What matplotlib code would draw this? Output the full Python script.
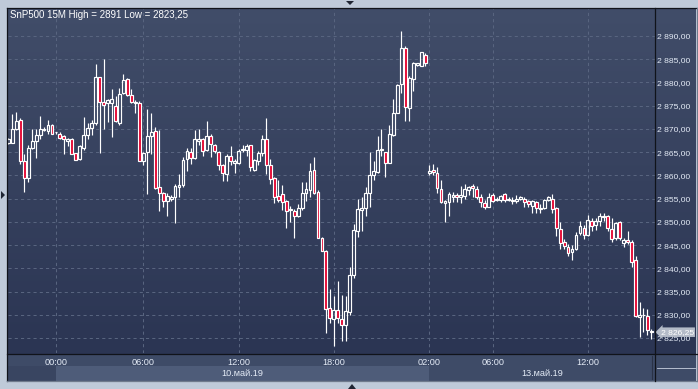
import numpy as np
import matplotlib
matplotlib.use('Agg')
import matplotlib.pyplot as plt
from matplotlib.patches import Rectangle, Polygon
from matplotlib.lines import Line2D
from matplotlib.colors import LinearSegmentedColormap

plt.rcParams['font.family'] = ['Liberation Sans', 'DejaVu Sans']

# ---------------- data (15M candles, SnP500) ----------------
opens = [2867, 2867, 2870, 2872, 2863, 2859.5, 2866, 2867.5, 2868.75, 2869.75,
         2869.5, 2870.75, 2869.25, 2869, 2868.5, 2867.5, 2867.75, 2864.75, 2863.5, 2866,
         2868.75, 2870.25, 2871.25, 2881.25, 2875.75, 2875.5, 2875.5, 2875, 2871.25, 2877.75,
         2880.75, 2877.25, 2875.5, 2875.5, 2863, 2865, 2868.5, 2869.5, 2857.5, 2856.25,
         2854.5,
         2855, 2855.25, 2857.5, 2858, 2863.5, 2865, 2863.75, 2867.5, 2867.75, 2865.5,
         2868.5, 2866.5, 2865, 2862.25, 2860.25, 2864.25, 2862.75, 2862.75, 2865.5, 2865.5,
         2866.5, 2861.25, 2863, 2864.75, 2867.75, 2862.25, 2859.5, 2855.5, 2856, 2854.5,
         2852.5, 2852.25, 2851.25, 2853, 2856.25, 2856.75, 2861.25, 2856.5, 2846.5, 2843.75,
         2831.5, 2829, 2831, 2829, 2827.75, 2830.5, 2838.5, 2848, 2852.5, 2853,
         2856.25, 2860, 2860.75, 2865.5, 2865, 2862.75, 2868.75, 2873.5, 2879.75, 2887.5,
         2874.5, 2880.75, 2883.75, 2883.5, 2886,
         2860.5, 2861.25, 2860.5, 2857, 2854, 2854.25, 2855.25, 2855.75, 2855.25, 2855.5,
         2856.75, 2857.75, 2857, 2855.25, 2854, 2853.25, 2855.75,
         2854.75, 2854.75, 2856, 2854.75, 2854.75, 2854.5, 2855, 2855, 2854.5, 2853.5,
         2854.25, 2853, 2853, 2854.75, 2855, 2853, 2848.5, 2845.75, 2844.5, 2843.5,
         2844.25, 2847.5, 2848.75, 2847.25, 2850.25, 2849.25, 2850.25, 2851, 2851.25, 2848.5,
         2846.5, 2850, 2845.5, 2846, 2845.75, 2841.75, 2829.5, 2830, 2829.75, 2826.5]
highs = [2868, 2873.25, 2873.75, 2872.25, 2864.5, 2866.5, 2870, 2870, 2872.75, 2870.5,
         2872, 2871, 2869.25, 2869.25, 2868.75, 2868, 2868, 2864.75, 2866.5, 2872.5,
         2871.25, 2872, 2884, 2881.25, 2885, 2876.5, 2878.5, 2877, 2878.75, 2881.75,
         2881, 2878.5, 2876.25, 2876, 2865, 2874.25, 2873.5, 2870.5, 2869.75, 2856.5,
         2856.25,
         2855.75, 2858.25, 2860.25, 2864, 2866, 2866, 2869.75, 2870, 2868, 2871.75,
         2869, 2866.75, 2865.25, 2862.5, 2864.5, 2866.25, 2863.5, 2865.75, 2866.5, 2866.75,
         2866.5, 2863.5, 2865.25, 2868.75, 2872.25, 2863.5, 2859.75, 2859, 2858, 2854.75,
         2853.5, 2852.75, 2853.75, 2858.5, 2858.5, 2862.75, 2864, 2856.75, 2846.75, 2844,
         2835.5, 2834, 2837.25, 2834.25, 2834, 2840.25, 2849.5, 2855, 2855.25, 2857.5,
         2865, 2863, 2868.5, 2870, 2865, 2870.75, 2876.5, 2879.75, 2891, 2887.75,
         2881.5, 2884.5, 2884.25, 2886.5, 2886.25,
         2862.25, 2862.5, 2861.75, 2859, 2854.75, 2856.5, 2856.5, 2856.25, 2857.75, 2858.25,
         2857.75, 2858.25, 2857.75, 2856, 2854.75, 2856.25, 2856.25,
         2855.25, 2855.75, 2856.25, 2855.25, 2855.25, 2855.75, 2855.5, 2855.25, 2854.75, 2854.75,
         2854.5, 2853.75, 2855, 2855.5, 2856, 2853.25, 2850, 2846.25, 2845.25, 2845,
         2847.75, 2850.25, 2849.25, 2851.5, 2850.75, 2850.75, 2852, 2852, 2851.5, 2850.75,
         2850, 2850.25, 2846.5, 2848, 2846, 2842.75, 2832.75, 2831.5, 2831.25, 2827]
lows = [2866.75, 2867, 2869.75, 2862.5, 2856.5, 2858.5, 2865.75, 2863.75, 2867.75, 2869.5,
        2869, 2869, 2869, 2867.75, 2864.5, 2866.25, 2864.5, 2863.25, 2863.25, 2865.5,
        2867.75, 2868.75, 2870.75, 2864.75, 2870, 2871.5, 2868.25, 2871.5, 2870.75, 2877.5,
        2877, 2875.5, 2873.5, 2863, 2862.25, 2856, 2864.5, 2857, 2852.25, 2853.25,
        2851.25,
        2854.5, 2849.75, 2855.25, 2857.5, 2861, 2862.5, 2863.5, 2866.5, 2864.25, 2865.25,
        2864, 2864.75, 2861.25, 2858.75, 2858.75, 2862.25, 2860.5, 2862.5, 2865, 2864.25,
        2861, 2861, 2862.25, 2864.25, 2860.25, 2858.25, 2854, 2854.25, 2852.5, 2848.75,
        2850, 2846.5, 2851, 2852.5, 2854.5, 2855.25, 2856, 2846.5, 2843.75, 2826,
        2828.25, 2823.25, 2828.25, 2824.25, 2824.25, 2830, 2838, 2846.75, 2848, 2851.25,
        2853.25, 2859, 2860.5, 2864.25, 2859.75, 2862.75, 2868.5, 2873.5, 2877.75, 2871.75,
        2871.75, 2878.25, 2883.5, 2883.5, 2883.5,
        2860, 2860, 2856.25, 2854, 2850, 2851.25, 2854.25, 2854.25, 2854, 2855,
        2855.75, 2855.25, 2855, 2853.25, 2852.75, 2853.25, 2854.25,
        2854.5, 2854.25, 2854.25, 2854.5, 2853.75, 2854, 2854.75, 2853.25, 2853.25, 2852,
        2852, 2852, 2852.75, 2854.5, 2852, 2847, 2844.25, 2844.25, 2842.75, 2841.75,
        2844, 2847.25, 2846.25, 2847, 2848, 2848.25, 2849, 2850.25, 2848, 2845.75,
        2846, 2846, 2844.5, 2845.25, 2840.25, 2829.5, 2825.25, 2826.25, 2825.75, 2824.75]
closes = [2867.75, 2870, 2871.75, 2863, 2859.5, 2866, 2867.5, 2868.75, 2870, 2870,
          2870.75, 2869, 2869.25, 2868, 2867.75, 2867.75, 2864.5, 2863.25, 2866.25, 2868.75,
          2870.25, 2871.25, 2881.25, 2875.75, 2875.25, 2876.25, 2876.5, 2871.75, 2877.5, 2880.5,
          2877.25, 2875.75, 2875.75, 2863, 2864.75, 2868.5, 2869.25, 2857.25, 2856.25, 2854.5,
          2855.5,
          2855.25, 2857.75, 2858, 2863.25, 2865.25, 2863.75, 2867.75, 2867.75, 2865.25, 2868.5,
          2866.75, 2865.25, 2862.25, 2860.5, 2864.25, 2863, 2863, 2865.25, 2865.75, 2866.25,
          2861.75, 2863.25, 2864.75, 2867.75, 2862.25, 2859.25, 2855.25, 2854.75, 2854.25, 2852.25,
          2852.75, 2851.25, 2853, 2856.25, 2857, 2861, 2856.25, 2846.5, 2843.75, 2831.25,
          2829.25, 2831, 2829.25, 2827.75, 2830.75, 2838.5, 2848.25, 2852.75, 2853, 2856.25,
          2860, 2861, 2865.5, 2865.75, 2862.75, 2869, 2873.5, 2879.5, 2887.5, 2874.75,
          2881, 2884.25, 2884.25, 2886.5, 2884.25,
          2861, 2860.75, 2857.25, 2854.25, 2854.5, 2856, 2855.75, 2855.25, 2855.75, 2857,
          2857.5, 2857.25, 2855.25, 2854.25, 2853.25, 2855.25, 2854.5,
          2855, 2855.5, 2854.75, 2855, 2854.5, 2855, 2855.25, 2854.25, 2853.75, 2854.5,
          2853, 2852.75, 2854.75, 2855.25, 2852.75, 2848.75, 2845.5, 2844.75, 2843.25, 2844.25,
          2847.25, 2849, 2847.25, 2850.5, 2849, 2850.25, 2851.25, 2851.25, 2848.75, 2846.25,
          2849.75, 2846.5, 2846, 2845.75, 2841.25, 2829.75, 2830, 2830, 2826.75, 2826.25]

tick_idx = [12, 34, 58, 82, 106, 122, 146]
tick_labels = ['00:00', '06:00', '12:00', '18:00', '02:00', '06:00', '12:00']
day_labels = ['10.май.19', '13.май.19']
day_start_idx = [12, 106]
price_ticks = [2825, 2830, 2835, 2840, 2845, 2850, 2855, 2860, 2865, 2870, 2875, 2880, 2885, 2890]
title = 'SnP500 15M High = 2891 Low = 2823,25'
last_price = 2826.25
volume_text = '102856'
bars_text = '>163<'

# ---------------- layout helpers ----------------
W, H = 698, 389
def fr(x0, y0, x1, y1):
    return [x0 / W, 1 - y1 / H, (x1 - x0) / W, (y1 - y0) / H]
def P(x, y):
    return (x / W, 1 - y / H)

fig = plt.figure(figsize=(W / 100, H / 100), dpi=100, facecolor='#bfcad9')

n = len(opens)
x = np.arange(n)
o = np.array(opens); h = np.array(highs); l = np.array(lows); c = np.array(closes)
xlim = (-0.08, n - 0.1)
ylim = (2821.77, 2896.03)

def fmt(p):
    return '{:,.2f}'.format(p).replace(',', ' ').replace('.', ',')

# gradient background (plot + right price panel)
bg = fig.add_axes(fr(8, 8, 696, 354))
cmap = LinearSegmentedColormap.from_list('g', ['#414d69', '#2b3553'])
bg.imshow(np.linspace(0, 1, 256).reshape(-1, 1), cmap=cmap, aspect='auto',
          extent=(0, 1, 0, 1), origin='upper')
bg.set_axis_off()

ax = fig.add_axes(fr(8, 8, 655, 353))
ax.set_facecolor('none')
ax.set_xlim(*xlim)
ax.set_ylim(*ylim)
for s in ax.spines.values():
    s.set_visible(False)

# grid
for p in price_ticks:
    ax.axhline(p, color='#58647f', lw=0.75, ls=(0, (3, 3)), zorder=1)
for t in tick_idx:
    ax.axvline(t, color='#58647f', lw=0.75, ls=(0, (3, 3)), zorder=1)

# candles
top = np.maximum(o, c)
bot = np.minimum(o, c)
ax.vlines(x, top, h, colors='white', lw=0.85, zorder=3)
ax.vlines(x, l, bot, colors='white', lw=0.85, zorder=3)
face = ['#e3002d' if cc < oo else 'none' for oo, cc in zip(o, c)]
ax.bar(x, top - bot, bottom=bot, width=0.72, color=face, edgecolor='white',
       linewidth=0.85, zorder=4)

# price axis on right
ax.yaxis.tick_right()
ax.set_yticks(price_ticks)
ax.set_yticklabels([fmt(p) for p in price_ticks])
ax.tick_params(axis='y', length=0, pad=1.3, labelsize=6.1, labelcolor='#e4ebf6')
ax.set_xticks([])

# current price marker
ax.annotate(fmt(last_price),
            xy=(1.0, last_price), xycoords=('axes fraction', 'data'),
            xytext=(4.0, 0), textcoords='offset points', va='center', ha='left',
            fontsize=6.1, color='white', zorder=20, annotation_clip=False,
            bbox=dict(boxstyle='larrow,pad=0.15', fc='#b4bbc8', ec='none'))

# title
fig.text(10 / W, 1 - 15 / H, title, fontsize=7, color='white', va='center', ha='left')

# bottom time axis
axb = fig.add_axes(fr(8, 354, 655, 381))
axb.set_xlim(*xlim)
axb.set_ylim(0, 1)
axb.set_axis_off()
axb.add_patch(Rectangle((0, 0), 1, 1, transform=axb.transAxes, fc='#3e4b67', ec='none', zorder=0))
axb.add_patch(Rectangle((xlim[0], 0), day_start_idx[0] - xlim[0], 0.55, fc='#394561', ec='none', zorder=1))
axb.add_patch(Rectangle((day_start_idx[0], 0), day_start_idx[1] - day_start_idx[0], 0.55,
                        fc='#4e5c79', ec='none', zorder=1))
for t, lab in zip(tick_idx, tick_labels):
    axb.text(t, 0.70, lab, ha='center', va='center', fontsize=6.6, color='#e4ebf6', zorder=3)
ends = day_start_idx[1:] + [xlim[1]]
for s0, s1, lab in zip(day_start_idx, ends, day_labels):
    axb.text((s0 + s1) / 2, 0.28, lab, ha='center', va='center', fontsize=6.6,
             color='#e4ebf6', zorder=3)
axb.plot([0.995, 0.995], [0.08, 0.92], transform=axb.transAxes, color='#2a3246', lw=0.8, zorder=2)

# bottom-right info cell
axr = fig.add_axes(fr(655, 354, 696, 381))
axr.set_axis_off()
axr.add_patch(Rectangle((0, 0), 1, 1, transform=axr.transAxes, fc='#3e4b67', ec='none'))
axr.text(0.5, 0.77, volume_text, ha='center', va='center', fontsize=6.6, color='#e4ebf6')
axr.text(0.5, 0.25, bars_text, ha='center', va='center', fontsize=6.6, color='#e4ebf6')
axr.plot([0.05, 0.97], [0.5, 0.5], transform=axr.transAxes, color='#c9d2e0', lw=0.6)

# frame lines
def fline(x0, y0, x1, y1, col='#10131a', lw=0.9):
    fig.add_artist(Line2D([x0 / W, x1 / W], [1 - y0 / H, 1 - y1 / H], color=col, lw=lw,
                          transform=fig.transFigure))
fline(7.5, 7.5, 696.5, 7.5)
fline(7.5, 7.5, 7.5, 381)
fline(7.5, 381, 696.5, 381, col='#6f7a8c')
fline(696.5, 7.5, 696.5, 381, col='#6f7a8c')
fline(7.5, 353.7, 696.5, 353.7)
fline(655.3, 7.5, 655.3, 381)

# small navigation triangles
for pts in ([(346, 1), (354, 1), (350, 5)],
            [(1, 191), (1, 199), (5, 195)],
            [(348, 389), (356, 389), (352, 384)]):
    fig.add_artist(Polygon([P(*q) for q in pts], closed=True, fc='#1f2533', ec='none',
                           transform=fig.transFigure))

fig.savefig('out.png', dpi=100, facecolor=fig.get_facecolor())
